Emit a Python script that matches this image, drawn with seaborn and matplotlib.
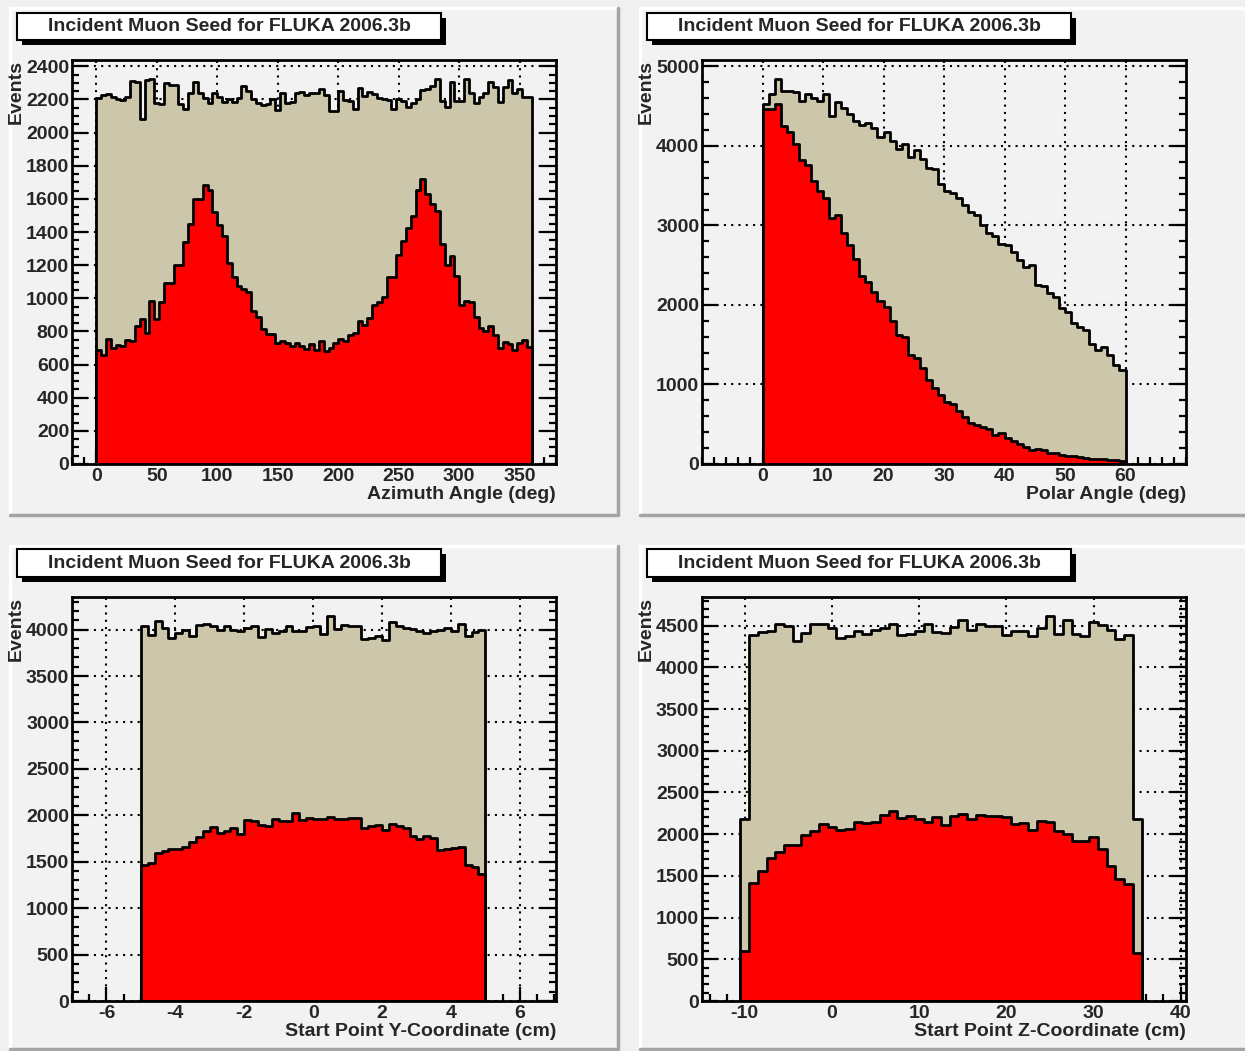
import numpy as np
import pandas as pd
import matplotlib
matplotlib.use("Agg")
import matplotlib.pyplot as plt
from matplotlib.patches import Rectangle
from matplotlib.lines import Line2D
from matplotlib.ticker import MultipleLocator, FixedLocator
import seaborn as sns

# ---------------- data (bin contents) ----------------
TITLE = "Incident Muon Seed for FLUKA 2006.3b"

phi_range = (0.0, 360.0)
phi_all = [2211, 2225, 2230, 2217, 2205, 2197, 2217, 2310, 2306, 2080,
           2318, 2322, 2180, 2170, 2298, 2286, 2286, 2170, 2140, 2241,
           2306, 2241, 2211, 2180, 2237, 2217, 2185, 2205, 2185, 2211,
           2282, 2252, 2205, 2180, 2164, 2174, 2205, 2136, 2237, 2180,
           2185, 2241, 2245, 2225, 2237, 2241, 2262, 2225, 2130, 2130,
           2252, 2197, 2189, 2140, 2272, 2221, 2245, 2231, 2211, 2201,
           2197, 2140, 2201, 2191, 2154, 2180, 2201, 2258, 2266, 2282,
           2322, 2191, 2156, 2306, 2191, 2191, 2322, 2241, 2180, 2217,
           2241, 2306, 2278, 2185, 2278, 2318, 2241, 2266, 2217, 2217]
phi_sel = [689, 659, 756, 703, 719, 715, 750, 745, 830, 876,
           792, 981, 878, 975, 1094, 1094, 1203, 1203, 1340, 1449,
           1600, 1600, 1681, 1653, 1520, 1444, 1374, 1213, 1127, 1072,
           1056, 1038, 921, 886, 816, 783, 785, 733, 745, 729,
           713, 729, 713, 693, 725, 689, 745, 679, 699, 729,
           753, 745, 779, 792, 860, 840, 880, 961, 975, 1005,
           1127, 1127, 1263, 1343, 1425, 1496, 1653, 1717, 1631, 1572,
           1526, 1330, 1203, 1257, 1137, 961, 985, 975, 890, 820,
           804, 830, 779, 699, 739, 725, 685, 733, 750, 705]

theta_range = (0.0, 60.0)
theta_all = [4523, 4649, 4838, 4687, 4691, 4683, 4561, 4649, 4607, 4565,
             4649, 4376, 4553, 4481, 4397, 4313, 4263, 4292, 4229, 4116,
             4175, 4061, 3956, 4019, 3864, 3944, 3839, 3717, 3704, 3524,
             3431, 3410, 3347, 3255, 3171, 3125, 3011, 2906, 2864, 2768,
             2759, 2663, 2570, 2478, 2507, 2255, 2234, 2150, 2100, 1961,
             1911, 1772, 1722, 1688, 1512, 1428, 1470, 1373, 1247, 1176]
theta_sel = [4460, 4460, 4523, 4250, 4175, 4019, 3822, 3755, 3557, 3431,
             3347, 3095, 3129, 2906, 2759, 2583, 2360, 2289, 2163, 2045,
             1974, 1793, 1625, 1592, 1373, 1331, 1205, 1050, 953, 869,
             777, 756, 668, 596, 512, 491, 470, 445, 361, 395,
             323, 294, 252, 218, 176, 185, 176, 143, 134, 109,
             101, 105, 84, 80, 67, 63, 59, 50, 50, 34]

ycoord_range = (-5.0, 5.0)
ycoord_all = [4036, 3946, 4097, 4018, 3910, 3964, 3993, 3928, 4054, 4065,
              4043, 4000, 4036, 3993, 3982, 4018, 4036, 3921, 4007, 3964,
              3982, 4043, 3982, 3982, 4029, 4043, 3953, 4144, 4007, 4054,
              4043, 4043, 3900, 3910, 3928, 3885, 4086, 4043, 4018, 4007,
              3982, 3964, 3982, 4000, 4018, 3982, 4065, 3935, 3971, 3993]
ycoord_sel = [1466, 1484, 1599, 1617, 1639, 1639, 1657, 1711, 1761, 1833,
              1873, 1808, 1826, 1862, 1801, 1952, 1934, 1891, 1880, 1963,
              1934, 1934, 2024, 1952, 1970, 1963, 1959, 1977, 1963, 1959,
              1966, 1973, 1862, 1887, 1898, 1844, 1909, 1880, 1862, 1772,
              1747, 1772, 1754, 1628, 1639, 1646, 1657, 1466, 1448, 1369]

zcoord_range = (-10.5, 35.5)
zcoord_all = [2180, 4392, 4420, 4432, 4524, 4500, 4312, 4412, 4524, 4524,
              4472, 4352, 4372, 4440, 4404, 4444, 4472, 4524, 4384, 4404,
              4432, 4524, 4424, 4412, 4484, 4564, 4452, 4524, 4492, 4500,
              4392, 4440, 4432, 4372, 4472, 4612, 4400, 4564, 4400, 4380,
              4544, 4512, 4444, 4344, 4384, 2180]
zcoord_sel = [600, 1420, 1560, 1712, 1784, 1872, 1872, 1992, 2032, 2116,
              2084, 2052, 2064, 2144, 2136, 2144, 2232, 2272, 2196, 2212,
              2180, 2144, 2200, 2104, 2212, 2240, 2180, 2224, 2220, 2212,
              2204, 2124, 2132, 2044, 2160, 2144, 2032, 2004, 1912, 1920,
              1960, 1820, 1620, 1464, 1400, 580]

xlabels = ["Azimuth Angle (deg)", "Polar Angle (deg)",
           "Start Point Y-Coordinate (cm)", "Start Point Z-Coordinate (cm)"]
ylabel = "Events"

# ---------------- style ----------------
W, H = 1245, 1051
sns.set_style("ticks")
plt.rcParams['font.family'] = ['Liberation Sans', 'DejaVu Sans']
plt.rcParams['font.weight'] = 'bold'
plt.rcParams['axes.unicode_minus'] = False

TAN = '#ccc6aa'
RED = '#ff0000'
BG = '#f0f0f0'
PAD = '#f2f2f2'

fig = plt.figure(figsize=(W / 100, H / 100), dpi=100, facecolor=BG)


def fx(x):
    return x / W


def fy(y):
    return 1 - y / H


def draw_pad(x0, y0, x1, y1):
    fig.add_artist(Rectangle((fx(x0), fy(y1)), (x1 - x0) / W, (y1 - y0) / H,
                             transform=fig.transFigure, facecolor=PAD,
                             edgecolor='none', zorder=-3))
    fig.add_artist(Line2D([fx(x0), fx(x0), fx(x1)], [fy(y1), fy(y0), fy(y0)],
                          transform=fig.transFigure, color='white', lw=2.5,
                          zorder=-2))
    fig.add_artist(Line2D([fx(x0), fx(x1), fx(x1)], [fy(y1), fy(y1), fy(y0)],
                          transform=fig.transFigure, color='#a4a4a4', lw=2.5,
                          zorder=-2))


def title_box(x0, y0, x1, y1, text):
    sh = 5
    fig.add_artist(Rectangle((fx(x0 + sh), fy(y1 + sh)), (x1 - x0) / W, (y1 - y0) / H,
                             transform=fig.transFigure, facecolor='black',
                             edgecolor='none', zorder=4))
    fig.add_artist(Rectangle((fx(x0), fy(y1)), (x1 - x0) / W, (y1 - y0) / H,
                             transform=fig.transFigure, facecolor='white',
                             edgecolor='black', lw=1.5, zorder=5))
    fig.text(fx((x0 + x1) / 2), fy((y0 + y1) / 2), text, ha='center', va='center',
             fontsize=14, fontweight='bold', zorder=6)


pads = [(10, 8, 618, 515), (640, 8, 1250, 515),
        (10, 546, 618, 1049), (640, 546, 1250, 1049)]
for p in pads:
    draw_pad(*p)

titles = [(17, 13, 441, 40), (647, 13, 1071, 40),
          (17, 549, 441, 577), (647, 549, 1071, 577)]

frames = [(72, 60, 556, 464), (702, 60, 1186, 464),
          (72, 597, 556, 1001), (702, 597, 1186, 1001)]

specs = [
    dict(rng=phi_range, tot=phi_all, sel=phi_sel, xlim=(-20, 380),
         xt=list(range(0, 351, 50)), xminor=10, yt=list(range(0, 2401, 200)), yminor=50),
    dict(rng=theta_range, tot=theta_all, sel=theta_sel, xlim=(-10, 70),
         xt=list(range(0, 61, 10)), xminor=2, yt=list(range(0, 5001, 1000)), yminor=200),
    dict(rng=ycoord_range, tot=ycoord_all, sel=ycoord_sel, xlim=(-7, 7.05),
         xt=list(range(-6, 7, 2)), xminor=0.5, yt=list(range(0, 4001, 500)), yminor=100),
    dict(rng=zcoord_range, tot=zcoord_all, sel=zcoord_sel, xlim=(-14.9, 40.6),
         xt=list(range(-10, 41, 10)), xminor=2, yt=list(range(0, 4501, 500)), yminor=100),
]

for i, (spec, fr, tb) in enumerate(zip(specs, frames, titles)):
    x0, y0, x1, y1 = fr
    ax = fig.add_axes([fx(x0), fy(y1), (x1 - x0) / W, (y1 - y0) / H])
    ax.set_facecolor(PAD)
    n = len(spec['tot'])
    edges = np.linspace(spec['rng'][0], spec['rng'][1], n + 1)
    centers = 0.5 * (edges[:-1] + edges[1:])
    df = pd.DataFrame({'x': centers,
                       'tot': np.asarray(spec['tot'], dtype=float),
                       'sel': np.asarray(spec['sel'], dtype=float)})
    bin_list = [float(e) for e in edges]
    sns.histplot(data=df, x='x', weights='tot', bins=bin_list, element='step',
                 fill=True, color=TAN, edgecolor='black', linewidth=2,
                 alpha=1, ax=ax)
    sns.histplot(data=df, x='x', weights='sel', bins=bin_list, element='step',
                 fill=True, color=RED, edgecolor='black', linewidth=2,
                 alpha=1, ax=ax)
    ax.set_xlim(*spec['xlim'])
    ax.set_ylim(0, 1.05 * max(spec['tot']))
    ax.set_xlabel('')
    ax.set_ylabel('')
    ax.xaxis.set_major_locator(FixedLocator(spec['xt']))
    ax.xaxis.set_minor_locator(MultipleLocator(spec['xminor']))
    ax.yaxis.set_major_locator(FixedLocator(spec['yt']))
    ax.yaxis.set_minor_locator(MultipleLocator(spec['yminor']))
    ax.set_axisbelow(True)
    ax.grid(True, which='major', color='black', linestyle=(0, (1, 2.5)), linewidth=1.5)
    for s in ax.spines.values():
        s.set_linewidth(2)
        s.set_color('black')
        s.set_visible(True)
    ax.tick_params(axis='y', which='both', direction='in', left=True, right=True,
                   labelsize=14, pad=2, width=1.6, color='black')
    ax.tick_params(axis='y', which='major', length=11.5)
    ax.tick_params(axis='y', which='minor', length=5)
    ax.tick_params(axis='x', which='both', direction='in', bottom=True, top=False,
                   labelsize=14, pad=3, width=1.6, color='black')
    ax.tick_params(axis='x', which='major', length=10)
    ax.tick_params(axis='x', which='minor', length=5)
    ax.text(1.0, -(495 - 464) / 404, xlabels[i], transform=ax.transAxes,
            ha='right', va='center', fontsize=14, fontweight='bold')
    ax.text((16 - 72) / 484, 1.0, ylabel, transform=ax.transAxes, rotation=90,
            ha='center', va='top', fontsize=14, fontweight='bold')
    title_box(*tb, TITLE)

fig.savefig("out.png", dpi=100, facecolor=BG)
